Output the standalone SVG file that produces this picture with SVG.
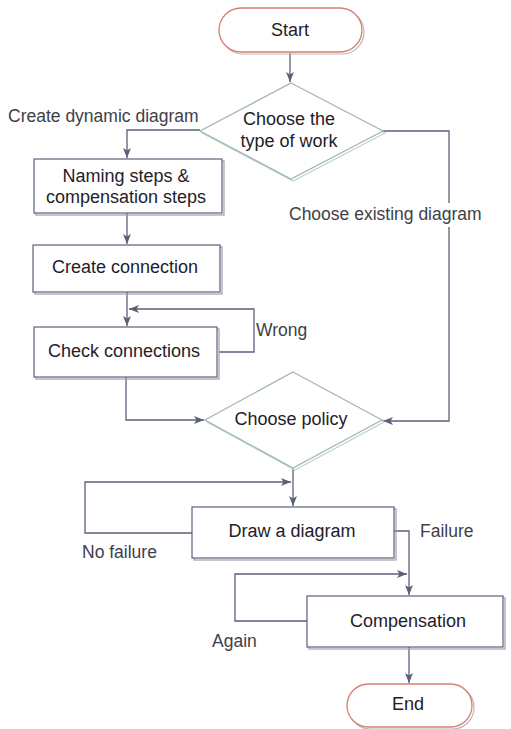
<svg xmlns="http://www.w3.org/2000/svg" width="511" height="729" viewBox="0 0 511 729">
  <defs>
    <marker id="arrow" viewBox="0 0 10 8" refX="10" refY="4" markerWidth="10" markerHeight="8" markerUnits="userSpaceOnUse" orient="auto">
      <path d="M0,0 L10,4 L0,8 L2.5,4 Z" fill="#5a6078"/>
    </marker>
  </defs>
  <style>
    text { font-family: "Liberation Sans", Arial, sans-serif; font-size: 18px; fill: #1f2128; }
    .lbl { fill: #3e4048; font-size: 17.5px; }
    .c { text-anchor: middle; }
    .edge { fill: none; stroke: #5a6078; stroke-width: 1.3; }
    .box { fill: #ffffff; stroke: #5b6079; stroke-width: 1.2; }
    .box-sh { fill: none; stroke: #9ca1b2; stroke-width: 1.2; }
    .dia { fill: #ffffff; stroke: #9fb6b2; stroke-width: 1.2; }
    .dia-sh { fill: none; stroke: #c3d2cf; stroke-width: 1.2; }
    .term { fill: #ffffff; stroke: #d87f70; stroke-width: 1.3; }
    .term-sh { fill: none; stroke: #b9b9b9; stroke-width: 1.2; }
    .bg { fill: #ffffff; }
  </style>
  <rect width="511" height="729" fill="#ffffff"/>

  <!-- connectors -->
  <g id="connectors">
    <path class="edge" d="M290,53 V82" marker-end="url(#arrow)"/>
    <path class="edge" d="M200,130 H127 V158" marker-end="url(#arrow)"/>
    <path class="edge" d="M127,213 V244" marker-end="url(#arrow)"/>
    <path class="edge" d="M127,292 V326" marker-end="url(#arrow)"/>
    <path class="edge" d="M219,352 H254 V309 H129" marker-end="url(#arrow)"/>
    <path class="edge" d="M126,377 V420 H204" marker-end="url(#arrow)"/>
    <path class="edge" d="M383,131 H449 V421 H383" marker-end="url(#arrow)"/>
    <path class="edge" d="M293,468 V506" marker-end="url(#arrow)"/>
    <path class="edge" d="M192,533 H85 V482 H291" marker-end="url(#arrow)"/>
    <path class="edge" d="M394,531 H409 V595" marker-end="url(#arrow)"/>
    <path class="edge" d="M307,621 H235 V574 H407" marker-end="url(#arrow)"/>
    <path class="edge" d="M409,647 V683" marker-end="url(#arrow)"/>
  </g>

  <!-- edge labels -->
  <g id="labels">
    <text class="lbl" x="8" y="122">Create dynamic diagram</text>
    <rect class="bg" x="287" y="203" width="198" height="24"/>
    <text class="lbl" x="289" y="220">Choose existing diagram</text>
    <text class="lbl" x="256" y="336">Wrong</text>
    <text class="lbl" x="82" y="558">No failure</text>
    <text class="lbl" x="420" y="537">Failure</text>
    <text class="lbl" x="212" y="647">Again</text>
  </g>

  <g id="start">
    <rect class="term-sh" x="221" y="10" width="143" height="44" rx="22"/>
    <rect class="term" x="219" y="8" width="143" height="44" rx="22"/>
    <text class="c" x="290" y="36">Start</text>
  </g>

  <g id="choose-type">
    <path class="dia-sh" d="M293,85 L385,133 L293,181 L202,133 Z"/>
    <path class="dia" d="M291,83 L383,131 L291,179 L200,131 Z"/>
    <text class="c" x="289" y="125">Choose the</text>
    <text class="c" x="289" y="147">type of work</text>
  </g>

  <g id="naming-steps">
    <rect class="box-sh" x="36" y="161" width="188" height="54"/>
    <rect class="box" x="34" y="159" width="188" height="54"/>
    <text class="c" x="126" y="182">Naming steps &amp;</text>
    <text class="c" x="126" y="203">compensation steps</text>
  </g>

  <g id="create-connection">
    <rect class="box-sh" x="35" y="247" width="187" height="47"/>
    <rect class="box" x="33" y="245" width="187" height="47"/>
    <text class="c" x="125" y="273">Create connection</text>
  </g>

  <g id="check-connections">
    <rect class="box-sh" x="36" y="329" width="183" height="50"/>
    <rect class="box" x="34" y="327" width="183" height="50"/>
    <text class="c" x="124" y="357">Check connections</text>
  </g>

  <g id="choose-policy">
    <path class="dia-sh" d="M295,374 L384,422 L295,470 L207,422 Z"/>
    <path class="dia" d="M293,372 L382,420 L293,468 L205,420 Z"/>
    <text class="c" x="291" y="425">Choose policy</text>
  </g>

  <g id="draw-diagram">
    <rect class="box-sh" x="194" y="509" width="202" height="51"/>
    <rect class="box" x="192" y="507" width="202" height="51"/>
    <text class="c" x="292" y="537">Draw a diagram</text>
  </g>

  <g id="compensation">
    <rect class="box-sh" x="309" y="598" width="196" height="51"/>
    <rect class="box" x="307" y="596" width="196" height="51"/>
    <text class="c" x="408" y="627">Compensation</text>
  </g>

  <g id="end">
    <rect class="term-sh" x="349" y="686" width="125" height="43" rx="21.5"/>
    <rect class="term" x="347" y="684" width="125" height="43" rx="21.5"/>
    <text class="c" x="408" y="710">End</text>
  </g>
</svg>
